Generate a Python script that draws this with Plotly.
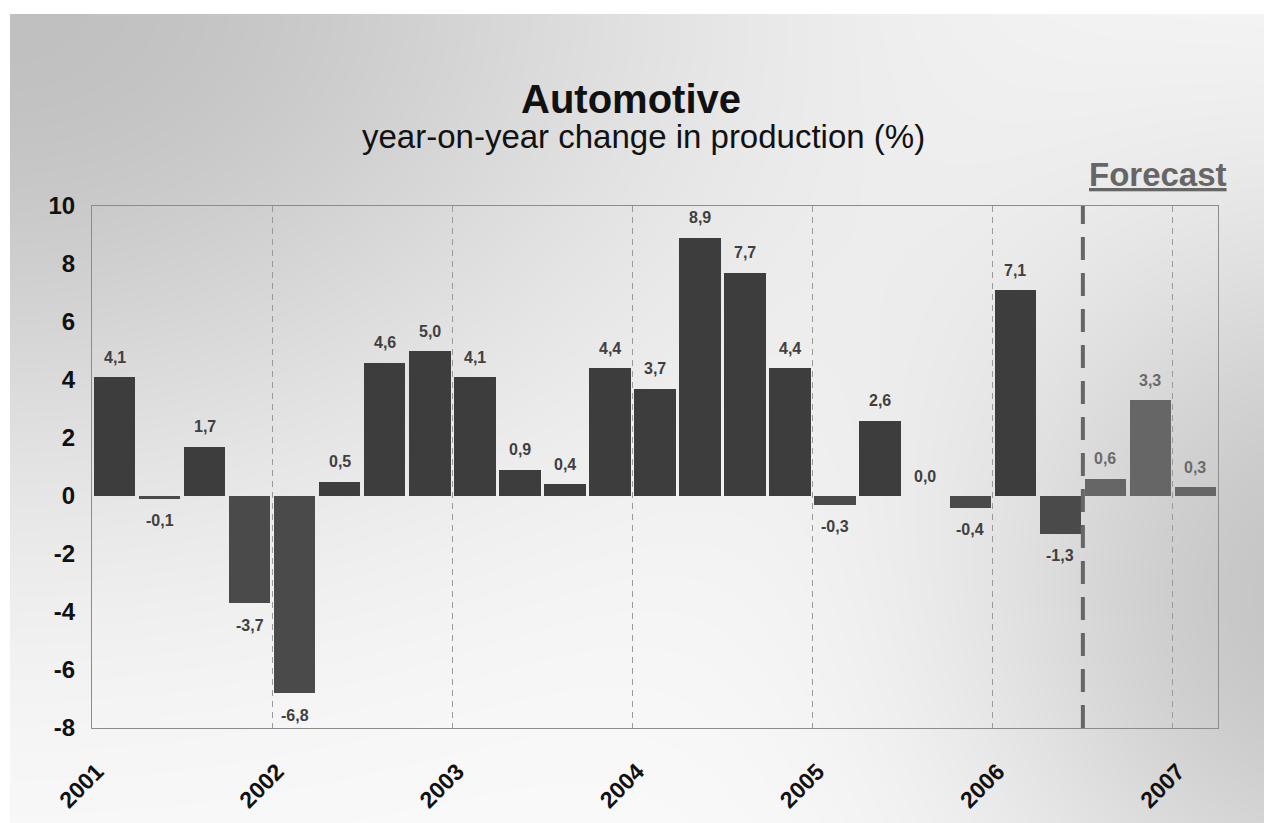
import base64
import struct
import zlib

import numpy as np
import plotly.graph_objects as go

# Quarterly year-on-year change in automotive production (%), Q1 2001 .. Q1 2007
values = [4.1, -0.1, 1.7, -3.7,
          -6.8, 0.5, 4.6, 5.0,
          4.1, 0.9, 0.4, 4.4,
          3.7, 8.9, 7.7, 4.4,
          -0.3, 2.6, 0.0, -0.4,
          7.1, -1.3, 0.6, 3.3,
          0.3]
n_forecast = 3  # last three quarters are forecasts
years = ["2001", "2002", "2003", "2004", "2005", "2006", "2007"]
y_ticks = [-8, -6, -4, -2, 0, 2, 4, 6, 8, 10]

W, H = 1264, 823
FONT = "Arial, Liberation Sans, sans-serif"


def grey_png(width, height):
    """Soft grey slide background encoded as a grayscale PNG data URI."""
    xx, yy = np.meshgrid(np.arange(width, dtype=float), np.arange(height, dtype=float))
    shade = 252.0
    shade -= 60 * np.exp(-(xx ** 2) / (2 * 500 ** 2) - (yy ** 2) / (2 * 350 ** 2))
    shade -= 55 * np.exp(-((xx - 1330) ** 2) / (2 * 250 ** 2) - ((yy - 600) ** 2) / (2 * 280 ** 2))
    shade[(xx < 10) | (yy < 14)] = 255
    img = np.clip(shade, 0, 255).astype(np.uint8)
    # PNG "Up" filter for compact encoding
    up = img.astype(np.int16)
    diff = np.empty_like(up)
    diff[0] = up[0]
    diff[1:] = (up[1:] - up[:-1]) % 256
    raw = np.hstack([np.full((height, 1), 2, dtype=np.uint8), diff.astype(np.uint8)]).tobytes()

    def chunk(tag, data):
        return struct.pack(">I", len(data)) + tag + data + struct.pack(">I", zlib.crc32(tag + data) & 0xFFFFFFFF)

    png = b"\x89PNG\r\n\x1a\n"
    png += chunk(b"IHDR", struct.pack(">IIBBBBB", width, height, 8, 0, 0, 0, 0))
    png += chunk(b"IDAT", zlib.compress(raw, 9))
    png += chunk(b"IEND", b"")
    return "data:image/png;base64," + base64.b64encode(png).decode()


n = len(values)
xpos = [i + 0.5 for i in range(n)]
is_fc = [i >= n - n_forecast for i in range(n)]
bar_colors = ["#666666" if f else ("#3d3d3d" if v >= 0 else "#4a4a4a") for v, f in zip(values, is_fc)]
text_colors = ["#6a6a6a" if f else "#404040" for f in is_fc]
labels = [f"{v:.1f}".replace(".", ",") for v in values]

fig = go.Figure()
fig.add_trace(go.Bar(
    x=xpos, y=values, width=0.92,
    marker=dict(color=bar_colors, line=dict(width=0)),
    hoverinfo="skip",
))

# value labels just beyond the end of each bar
value_notes = [
    dict(x=xv, y=v, xref="x", yref="y", text=lab, showarrow=False,
         xanchor="center", yanchor="middle", yshift=(20 if v >= 0 else -22),
         font=dict(family=FONT, size=16, color=tc, weight="bold"))
    for xv, v, lab, tc in zip(xpos, values, labels, text_colors)
]

# forecast divider
fig.add_shape(type="line", xref="x", yref="y domain", x0=n - n_forecast, x1=n - n_forecast,
              y0=0, y1=1, line=dict(color="#666666", width=4, dash="23px,13px"), layer="above")

x0d, x1d = 92 / W, 1218 / W
y0d, y1d = 1 - 728 / H, 1 - 206 / H

fig.update_layout(
    width=W, height=H,
    margin=dict(l=0, r=0, t=0, b=0, autoexpand=False),
    paper_bgcolor="white", plot_bgcolor="rgba(0,0,0,0)",
    showlegend=False, bargap=0,
    images=[dict(source=grey_png(W, H), xref="paper", yref="paper", x=0, y=1,
                 sizex=1, sizey=1, xanchor="left", yanchor="top",
                 sizing="stretch", layer="below")],
    xaxis=dict(
        domain=[x0d, x1d], range=[0, n], automargin=False,
        tickvals=[4 * i for i in range(len(years))], ticktext=years,
        tickangle=-45, tickfont=dict(family=FONT, size=23, color="#111111", weight="bold"),
        ticks="outside", ticklen=20, tickcolor="rgba(0,0,0,0)", ticklabelshift=5,
        showgrid=True, gridcolor="#9a9a9a", gridwidth=1, griddash="6px,5px",
        showline=True, linecolor="#8c8c8c", linewidth=1, mirror=True, zeroline=False,
    ),
    yaxis=dict(
        domain=[y0d, y1d], range=[-8, 10], automargin=False,
        tickvals=y_ticks, ticktext=[str(t) for t in y_ticks],
        tickfont=dict(family=FONT, size=24, color="#111111", weight="bold"),
        ticks="outside", ticklen=11, tickcolor="rgba(0,0,0,0)",
        showgrid=False, zeroline=False,
        showline=True, linecolor="#8c8c8c", linewidth=1, mirror=True,
    ),
    annotations=value_notes + [
        dict(text="Automotive", x=631 / W, y=1 - 99 / H, xref="paper", yref="paper",
             showarrow=False, xanchor="center", yanchor="middle",
             font=dict(family=FONT, size=40, color="#111111", weight="bold")),
        dict(text="year-on-year change in production (%)", x=643 / W, y=1 - 136 / H,
             xref="paper", yref="paper", showarrow=False, xanchor="center", yanchor="middle",
             font=dict(family=FONT, size=33, color="#111111")),
        dict(text="<u>Forecast</u>", x=1158 / W, y=1 - 174 / H, xref="paper", yref="paper",
             showarrow=False, xanchor="center", yanchor="middle",
             font=dict(family=FONT, size=33, color="#666666", weight="bold")),
    ],
)

fig.write_html("out.html")
